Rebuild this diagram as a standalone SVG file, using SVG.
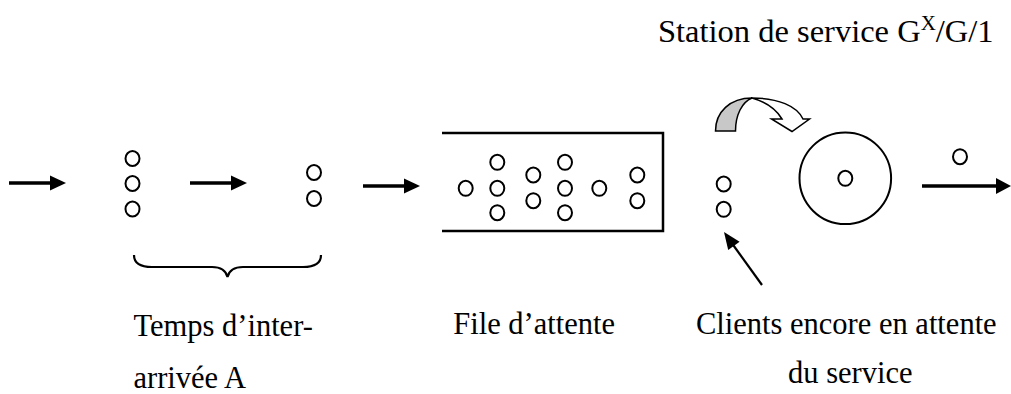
<svg xmlns="http://www.w3.org/2000/svg" width="1011" height="394" viewBox="0 0 1011 394">
<style>
.t{font-family:"Liberation Serif","Times New Roman",serif;font-size:30.5px;fill:#000}
.big{font-size:32.5px}
.sup{font-size:21px}
.c{fill:none;stroke:#000;stroke-width:2}
.ln{stroke:#000;stroke-width:3.5;fill:none}
.hd{fill:#000}
</style>
<rect width="1011" height="394" fill="#fff"/>
<g id="connectors">
<line class="ln" x1="9" y1="183" x2="52" y2="183"/>
<polygon class="hd" points="50,175.5 66,183 50,190.5"/>
<line class="ln" x1="190" y1="183" x2="233" y2="183"/>
<polygon class="hd" points="231,175.5 247,183 231,190.5"/>
<line class="ln" x1="363" y1="186" x2="406" y2="186"/>
<polygon class="hd" points="404,178.5 420,186 404,193.5"/>
<line class="ln" x1="922" y1="186" x2="998" y2="186"/>
<polygon class="hd" points="996,178 1011,186 996,194"/>
<line x1="762" y1="285" x2="731" y2="242" stroke="#000" stroke-width="2.2"/>
<polygon class="hd" points="724,232 739.6,241.7 728.2,249.9"/>
</g>
<g id="arrivals1">
<ellipse class="c" cx="132.5" cy="158.5" rx="7" ry="7.5"/>
<ellipse class="c" cx="132.5" cy="183.5" rx="7" ry="7.5"/>
<ellipse class="c" cx="132.5" cy="209" rx="7" ry="7.5"/>
</g>
<g id="arrivals2">
<ellipse class="c" cx="314" cy="172.5" rx="7" ry="7.5"/>
<ellipse class="c" cx="314" cy="198.5" rx="7" ry="7.5"/>
</g>
<g id="brace">
<path d="M134,255 Q134,267 152,267 L212,267 Q225,267 227.5,277 Q230,267 243,267 L303,267 Q321,267 321,255" fill="none" stroke="#000" stroke-width="2.2"/>
</g>
<g id="queue">
<path d="M442,133 L663,133 L663,231 L442,231" fill="none" stroke="#000" stroke-width="2.5"/>
<ellipse class="c" cx="465.7" cy="188.3" rx="7" ry="7.5"/>
<ellipse class="c" cx="497.3" cy="162.3" rx="7" ry="7.5"/>
<ellipse class="c" cx="497.3" cy="188.3" rx="7" ry="7.5"/>
<ellipse class="c" cx="497.3" cy="212.7" rx="7" ry="7.5"/>
<ellipse class="c" cx="533.3" cy="175" rx="7" ry="7.5"/>
<ellipse class="c" cx="533.3" cy="200.7" rx="7" ry="7.5"/>
<ellipse class="c" cx="565" cy="162.3" rx="7" ry="7.5"/>
<ellipse class="c" cx="565" cy="188.3" rx="7" ry="7.5"/>
<ellipse class="c" cx="565" cy="212.7" rx="7" ry="7.5"/>
<ellipse class="c" cx="599.3" cy="188.3" rx="7" ry="7.5"/>
<ellipse class="c" cx="637.3" cy="175" rx="7" ry="7.5"/>
<ellipse class="c" cx="637.3" cy="200.7" rx="7" ry="7.5"/>
</g>
<g id="waiting">
<ellipse class="c" cx="723.7" cy="184" rx="7" ry="7.5"/>
<ellipse class="c" cx="723.7" cy="209.3" rx="7" ry="7.5"/>
</g>
<g id="server">
<circle class="c" cx="845.3" cy="178.3" r="45.8"/>
<ellipse class="c" cx="845.3" cy="178.3" rx="7" ry="7.5"/>
</g>
<g id="departure">
<ellipse class="c" cx="960" cy="156.7" rx="7" ry="7.5"/>
</g>
<g id="curved-arrow">
<path d="M752,98 C778,98 797,106 803,119 L809.5,119 L792,131.5 L771.5,119 L782,119 C776,109 766,102 752,98 Z" fill="#fff" stroke="#000" stroke-width="1.5" stroke-linejoin="miter"/>
<path d="M715.5,131 C715.5,112 730,98 752,98 C742,102 735.5,115 735.5,131 Z" fill="#c8c8c8" stroke="#000" stroke-width="1.5"/>
</g>
<g id="labels">
<text class="t big" x="658" y="42">Station de service G<tspan class="sup" dy="-12">X</tspan><tspan dy="12">/G/1</tspan></text>
<text class="t" x="133.5" y="336">Temps d’inter-</text>
<text class="t" x="133.5" y="388">arrivée A</text>
<text class="t" x="453.3" y="333.5">File d’attente</text>
<text class="t" x="696" y="334">Clients encore en attente</text>
<text class="t" x="788" y="382.5">du service</text>
</g>
</svg>
